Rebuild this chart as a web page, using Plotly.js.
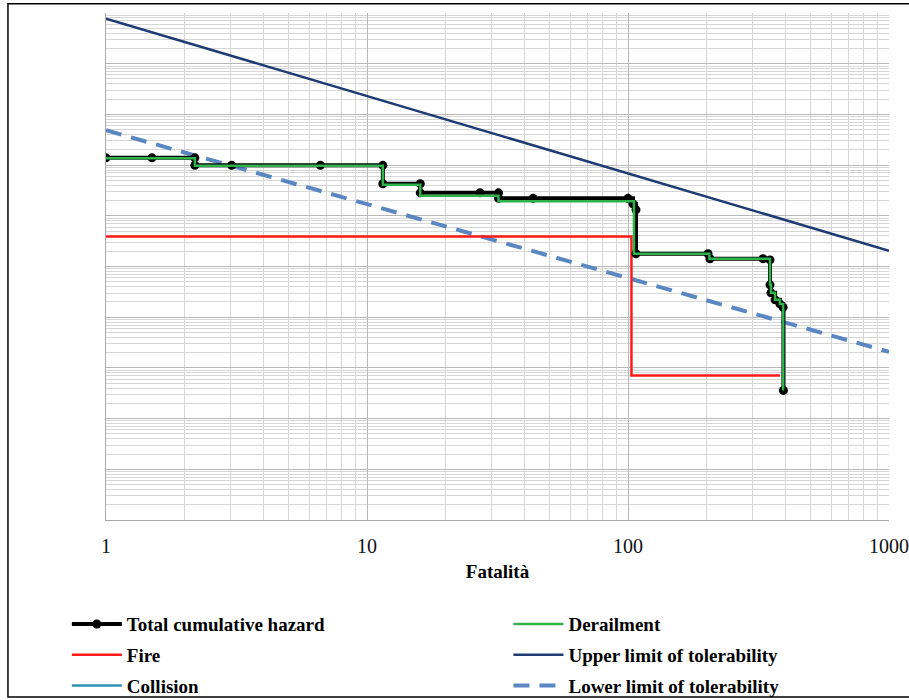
<!DOCTYPE html>
<html>
<head>
<meta charset="utf-8">
<script src="https://cdn.plot.ly/plotly-3.0.1.min.js"></script>
<style>html,body{margin:0;padding:0;background:#fff;}#chart{width:909px;height:700px;}</style>
</head>
<body>
<div id="chart"></div>
<script>
// Total cumulative hazard (step points, with markers)
var totalN = [1, 1.5, 2.19, 2.19, 3.03, 6.63, 11.5, 11.5, 16.0, 16.0, 27.1, 31.9, 31.9, 43.3, 100, 104.5, 107.3, 107.3, 202.6, 206, 329, 350, 350, 353, 366, 382, 393, 394];
var totalF = [1.39e-5, 1.39e-5, 1.39e-5, 9.9e-6, 9.9e-6, 9.9e-6, 9.9e-6, 4.28e-6, 4.28e-6, 2.84e-6, 2.84e-6, 2.84e-6, 2.21e-6, 2.21e-6, 2.21e-6, 1.72e-6, 1.31e-6, 1.78e-7, 1.78e-7, 1.42e-7, 1.42e-7, 1.35e-7, 4.35e-8, 3.02e-8, 2.2e-8, 1.83e-8, 1.56e-8, 3.6e-10];
// Derailment
var derN = [1, 2.19, 2.19, 11.5, 11.5, 16.0, 16.0, 31.9, 31.9, 105.4, 105.4, 205, 205, 350, 350, 353, 366, 382, 393, 393];
var derF = [1.36e-5, 1.36e-5, 9.7e-6, 9.7e-6, 4.09e-6, 4.09e-6, 2.48e-6, 2.48e-6, 1.93e-6, 1.93e-6, 1.78e-7, 1.78e-7, 1.42e-7, 1.42e-7, 4.35e-8, 3.02e-8, 2.2e-8, 1.83e-8, 1.56e-8, 3.6e-10];
// Fire
var fireN = [1, 103.1, 103.1, 382];
var fireF = [3.9e-7, 3.9e-7, 7.05e-10, 7.05e-10];
// Collision (not visible in the plot)
var colN = [null];
var colF = [null];
// Tolerability limits
var upperN = [1, 1000];
var upperF = [7.72e-3, 2.04e-7];
var lowerN = [1, 1000];
var lowerF = [4.86e-5, 2.07e-9];
// x tick labels
var xTickVals = [1, 10, 100, 1000];
var xTickText = ['1', '10', '100', '1000'];

var traces = [
  {x: upperN, y: upperF, mode: 'lines', name: 'Upper limit of tolerability', legend: 'legend2', legendgroup: 'u', legendrank: 2,
   line: {color: '#1f3b73', width: 2.5}},
  {x: lowerN, y: lowerF, mode: 'lines', name: 'Lower limit of tolerability', legend: 'legend2', legendgroup: 'l', legendrank: 3,
   line: {color: '#5a86c2', width: 4, dash: '16px,10px'}},
  {x: fireN, y: fireF, mode: 'lines', name: 'Fire', legend: 'legend', legendgroup: 'f', legendrank: 2,
   line: {color: '#ff1a1a', width: 2.5}},
  {x: colN, y: colF, mode: 'lines', name: 'Collision', legend: 'legend', legendgroup: 'c', legendrank: 3,
   line: {color: '#2f8fb5', width: 2.5}},
  {x: totalN, y: totalF, mode: 'lines+markers', name: 'Total cumulative hazard', legend: 'legend', legendgroup: 't', legendrank: 1,
   line: {color: '#000000', width: 4, shape: 'hv'}, marker: {color: '#000000', size: 9}},
  {x: derN, y: derF, mode: 'lines', name: 'Derailment', legend: 'legend2', legendgroup: 'd', legendrank: 1,
   line: {color: '#2db24c', width: 2.5, shape: 'hv'}}
];

var gridMinor = '#d6d6d6';
var gridMajor = '#b8b8b8';
var serif = 'Liberation Serif, Times New Roman, serif';
var legFont = {family: serif, size: 19, color: '#000', weight: 'bold'};

var layout = {
  width: 909, height: 700,
  margin: {l: 106, r: 20, t: 13, b: 180, autoexpand: false},
  paper_bgcolor: '#ffffff', plot_bgcolor: '#ffffff',
  showlegend: true,
  xaxis: {
    type: 'log', range: [0, 3],
    tickvals: xTickVals, ticktext: xTickText,
    tickfont: {family: serif, size: 20, color: '#111'},
    ticks: 'outside', ticklen: 8, tickcolor: 'rgba(0,0,0,0)',
    showgrid: true, gridcolor: gridMajor, gridwidth: 1,
    minor: {dtick: 'D1', showgrid: true, gridcolor: gridMinor, gridwidth: 1},
    showline: true, linecolor: '#aaaaaa', linewidth: 1, mirror: false,
    zeroline: false,
    title: {text: '<b>Fatalità</b>', font: {family: serif, size: 19, color: '#000'}, standoff: 8}
  },
  yaxis: {
    type: 'log', range: [-12, -2],
    dtick: 1, showticklabels: false, ticks: '',
    showgrid: true, gridcolor: gridMajor, gridwidth: 1,
    minor: {dtick: 'D1', showgrid: true, gridcolor: gridMinor, gridwidth: 1},
    showline: true, linecolor: '#aaaaaa', linewidth: 1,
    zeroline: false
  },
  legend: {
    x: -0.05, y: -0.168, xanchor: 'left', yanchor: 'top',
    orientation: 'v', traceorder: 'grouped', tracegroupgap: 3,
    itemwidth: 50, font: legFont, bgcolor: 'rgba(0,0,0,0)'
  },
  legend2: {
    x: 0.514, y: -0.168, xanchor: 'left', yanchor: 'top',
    orientation: 'v', traceorder: 'grouped', tracegroupgap: 3,
    itemwidth: 50, font: legFont, bgcolor: 'rgba(0,0,0,0)'
  },
  shapes: [
    {type: 'rect', xref: 'paper', yref: 'paper', x0: -0.1252, x1: 1.04, y0: -0.3493, y1: 1.0184,
     line: {color: '#000', width: 1.5}, fillcolor: 'rgba(0,0,0,0)', layer: 'above'}
  ]
};

Plotly.newPlot('chart', traces, layout, {displayModeBar: false, staticPlot: true});
</script>
</body>
</html>
